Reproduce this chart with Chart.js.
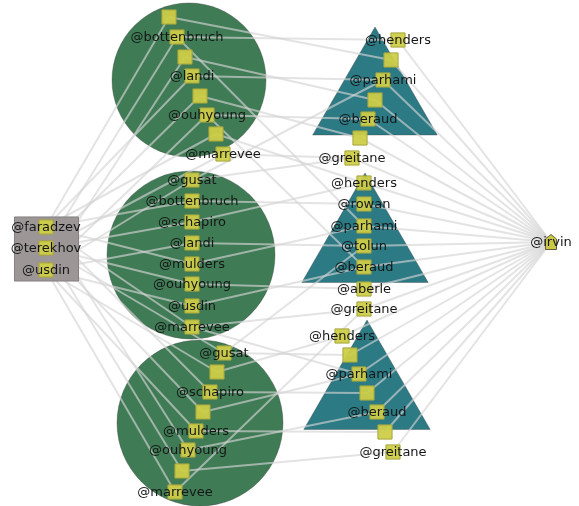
<!DOCTYPE html>
<html>
<head>
<meta charset="utf-8">
<script src="https://cdn.jsdelivr.net/npm/chart.js@4/dist/chart.umd.min.js"></script>
<style>
  body { margin: 0; background: #fff; }
  #wrap { width: 579px; height: 506px; }
</style>
</head>
<body>
<div id="wrap"><canvas id="graph" width="579" height="506"></canvas></div>
<script>
// node names ("" = unlabeled node)
var nodeNames = [
  "@faradzev", "@terekhov", "@usdin",
  "", "@bottenbruch", "", "@landi", "", "@ouhyoung", "", "@marrevee",
  "@gusat", "@bottenbruch", "@schapiro", "@landi", "@mulders", "@ouhyoung", "@usdin", "@marrevee",
  "@gusat", "", "@schapiro", "", "@mulders", "@ouhyoung", "", "@marrevee",
  "@henders", "", "@parhami", "", "@beraud", "", "@greitane",
  "@henders", "@rowan", "@parhami", "@tolun", "@beraud", "@aberle", "@greitane",
  "@henders", "", "@parhami", "", "@beraud", "", "@greitane",
  "@irvin"
];
var nodeX = [
  46, 46, 46,
  169, 177, 185, 192, 200, 207, 216, 223,
  192, 192, 192, 192, 192, 192, 192, 192,
  224, 217, 210, 203, 196, 188, 182, 175,
  398, 391, 383, 375, 368, 360, 352,
  364, 364, 364, 364, 364, 364, 364,
  342, 350, 359, 367, 377, 385, 393,
  551
];
var nodeY = [
  227, 248, 270,
  17, 37, 57, 76, 96, 115, 134, 154,
  180, 201, 222, 243, 264, 284, 306, 327,
  353, 372, 392, 412, 431, 450, 471, 492,
  40, 60, 80, 100, 119, 138, 158,
  183, 204, 226, 246, 267, 289, 309,
  336, 355, 374, 393, 412, 432, 452,
  242
];

// edges as [from, to] node indexes
var edgeFrom = [
  3, 4, 5, 6, 7, 8, 9, 10, 11, 12, 13, 14, 15, 16, 17, 18, 19, 20, 21, 22, 23, 24, 25, 26,
  3, 4, 5, 6, 7, 8, 9, 10, 4, 8,
  11, 12, 13, 14, 15, 16, 17, 18, 11, 18,
  19, 20, 21, 22, 23, 24, 25, 26, 19,
  27, 28, 29, 30, 31, 32, 33, 34, 35, 36, 37, 38, 39, 40, 41, 42, 43, 44, 45, 46, 47
];
var edgeTo = [
  0, 1, 2, 0, 1, 2, 0, 1, 2, 0, 1, 2, 0, 1, 2, 0, 1, 2, 0, 1, 2, 0, 1, 2,
  28, 27, 30, 29, 32, 31, 34, 33, 36, 38,
  33, 35, 34, 37, 36, 39, 38, 40, 29, 43,
  42, 41, 44, 43, 46, 45, 47, 40, 37,
  48, 48, 48, 48, 48, 48, 48, 48, 48, 48, 48, 48, 48, 48, 48, 48, 48, 48, 48, 48, 48
];

// group shapes
var groupX = [46.5, 189, 191, 200, 375, 365, 367];
var groupY = [249, 80, 255, 423, 99, 246, 393];
var groupSize = [45.3, 77, 84, 83, 72, 73, 73];
var groupShape = ["rect", "circle", "circle", "circle", "triangle", "triangle", "triangle"];

function groupColor(shape) {
  if (shape == "rect") return "#9d9697";
  if (shape == "circle") return "#3f7b55";
  return "#2c7a84";
}

// little house marker for @irvin
function houseIcon() {
  var c = document.createElement("canvas");
  c.width = 12; c.height = 16;
  var g = c.getContext("2d");
  g.fillStyle = "#c9c947";
  g.strokeStyle = "#6b5a3a";
  g.lineWidth = 1;
  g.beginPath();
  g.moveTo(6, 0.5); g.lineTo(11.5, 5); g.lineTo(11.5, 15.5); g.lineTo(0.5, 15.5); g.lineTo(0.5, 5);
  g.closePath(); g.fill(); g.stroke();
  return c;
}

var datasets = [];

// small squares (top)
var nodes = [];
var lastNode = nodeNames.length - 1;
for (var i = 0; i < lastNode; i++) nodes.push({x: nodeX[i], y: nodeY[i]});
datasets.push({
  data: nodes, pointStyle: "rect", pointRadius: 10,
  backgroundColor: "rgba(206,206,72,0.95)", borderColor: "#a5a53c", borderWidth: 1, order: 0
});
datasets.push({
  data: [{x: nodeX[lastNode], y: nodeY[lastNode]}], pointStyle: houseIcon(), pointRadius: 8, order: 0
});

// group shapes
for (var g = 0; g < groupX.length; g++) {
  var isRect = groupShape[g] == "rect";
  datasets.push({
    data: [{x: groupX[g], y: groupY[g]}],
    pointStyle: groupShape[g], pointRadius: groupSize[g],
    backgroundColor: groupColor(groupShape[g]),
    borderColor: isRect ? "#857f80" : "rgba(60,60,60,0.35)", borderWidth: 1,
    order: isRect ? 1 : 3
  });
}

// edges
for (var e = 0; e < edgeFrom.length; e++) {
  var a = edgeFrom[e], b = edgeTo[e];
  datasets.push({
    data: [{x: nodeX[a], y: nodeY[a]}, {x: nodeX[b], y: nodeY[b]}],
    showLine: true, pointRadius: 0, borderColor: "rgba(212,212,212,0.65)", borderWidth: 2, order: 2
  });
}

var labelPlugin = {
  id: "nodeLabels",
  afterDatasetsDraw: function(chart) {
    var ctx = chart.ctx;
    var xs = chart.scales.x, ys = chart.scales.y;
    ctx.save();
    ctx.font = "13px 'DejaVu Sans'";
    ctx.fillStyle = "#161616";
    ctx.textAlign = "center";
    ctx.textBaseline = "middle";
    for (var i = 0; i < nodeNames.length; i++) {
      if (nodeNames[i]) ctx.fillText(nodeNames[i], xs.getPixelForValue(nodeX[i]), ys.getPixelForValue(nodeY[i]) + 1);
    }
    ctx.restore();
  }
};

new Chart(document.getElementById("graph"), {
  type: "scatter",
  data: {datasets: datasets},
  options: {
    responsive: false,
    animation: false,
    layout: {padding: 0, autoPadding: false},
    plugins: {legend: {display: false}, tooltip: {enabled: false}},
    scales: {
      x: {display: false, min: 0, max: 579},
      y: {display: false, min: 0, max: 506, reverse: true}
    }
  },
  plugins: [labelPlugin]
});
</script>
</body>
</html>
